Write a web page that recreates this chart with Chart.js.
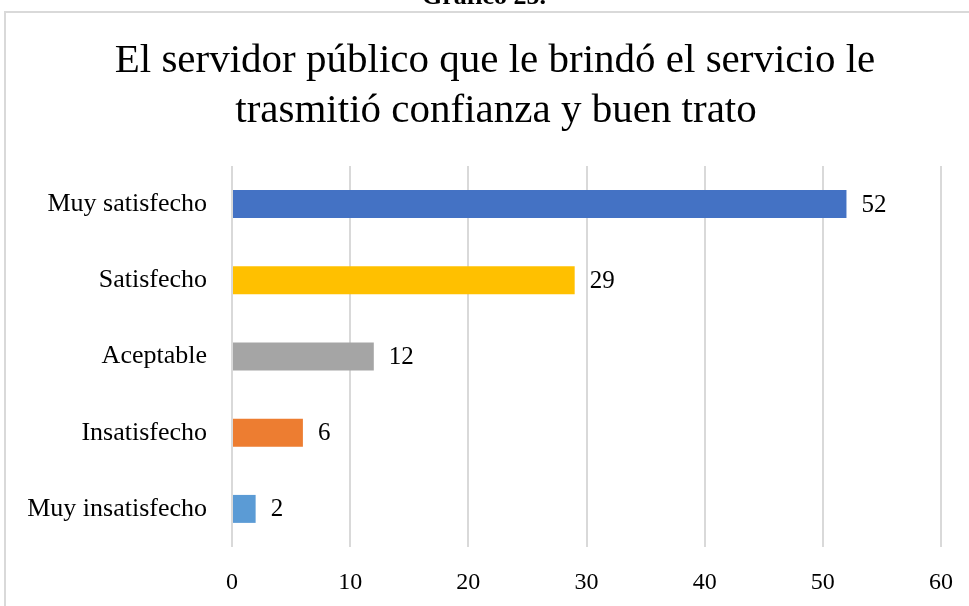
<!DOCTYPE html>
<html>
<head>
<meta charset="utf-8">
<script src="https://cdn.jsdelivr.net/npm/chart.js@4.4.1/dist/chart.umd.min.js"></script>
<style>
  html, body { margin: 0; padding: 0; background: #fff; }
  canvas { display: block; }
</style>
</head>
<body>
<canvas id="chart" width="969" height="606"></canvas>
<script>
const categories = ['Muy satisfecho', 'Satisfecho', 'Aceptable', 'Insatisfecho', 'Muy insatisfecho'];
const respuestas = [52, 29, 12, 6, 2];
const barColors = ['#4472C4', '#FFC000', '#A5A5A5', '#ED7D31', '#5B9BD5'];
const titleLines = ['El servidor público que le brindó el servicio le', 'trasmitió confianza y buen trato'];
const caption = 'Gráfico 25.';

const serif = '"Liberation Serif", "Times New Roman", serif';

// frame, caption and title around the plot
const frameAndTitle = {
  id: 'frameAndTitle',
  beforeDraw(chart) {
    const ctx = chart.ctx;
    ctx.save();
    ctx.fillStyle = '#fff';
    ctx.fillRect(0, 0, chart.width, chart.height);
    ctx.strokeStyle = '#d9d9d9';
    ctx.lineWidth = 2;
    ctx.beginPath();
    ctx.moveTo(5, chart.height);
    ctx.lineTo(5, 12);
    ctx.lineTo(chart.width, 12);
    ctx.stroke();

    ctx.fillStyle = '#000';
    ctx.textAlign = 'center';
    ctx.textBaseline = 'alphabetic';
    ctx.font = 'bold 26px ' + serif;
    ctx.fillText(caption, 484, 4);

    ctx.font = '41px ' + serif;
    ctx.fillText(titleLines[0], 495, 72);
    ctx.fillText(titleLines[1], 496, 122);
    ctx.restore();
  }
};

// value printed just past the end of each bar
const barValues = {
  id: 'barValues',
  afterDatasetsDraw(chart) {
    const ctx = chart.ctx;
    const meta = chart.getDatasetMeta(0);
    ctx.save();
    ctx.fillStyle = '#000';
    ctx.font = '25px ' + serif;
    ctx.textAlign = 'left';
    ctx.textBaseline = 'middle';
    meta.data.forEach((bar, i) => {
      ctx.fillText(String(respuestas[i]), bar.x + 15, bar.y + 1);
    });
    ctx.restore();
  }
};

new Chart(document.getElementById('chart'), {
  type: 'bar',
  data: {
    labels: categories,
    datasets: [{
      data: respuestas,
      backgroundColor: barColors,
      borderWidth: 0,
      barPercentage: 0.367,
      categoryPercentage: 1
    }]
  },
  options: {
    indexAxis: 'y',
    responsive: false,
    animation: false,
    layout: { padding: { top: 166, right: 28, left: 0, bottom: 0 } },
    plugins: {
      legend: { display: false },
      title: { display: false },
      tooltip: { enabled: false }
    },
    scales: {
      x: {
        min: 0,
        max: 60,
        border: { display: false },
        grid: { color: '#d9d9d9', lineWidth: 2, drawTicks: false },
        ticks: {
          stepSize: 10,
          padding: 21,
          color: '#000',
          font: { family: serif, size: 24 }
        },
        afterFit(scale) {
          scale.height = 59;
          // the edge labels fit inside the layout padding already
          scale.paddingLeft = 0;
          scale.paddingRight = 0;
        }
      },
      y: {
        border: { display: false },
        grid: { display: false, drawTicks: false },
        ticks: {
          padding: 25,
          color: '#000',
          font: { family: serif, size: 26 }
        },
        afterFit(scale) { scale.width = 232; }
      }
    }
  },
  plugins: [frameAndTitle, barValues]
});
</script>
</body>
</html>
